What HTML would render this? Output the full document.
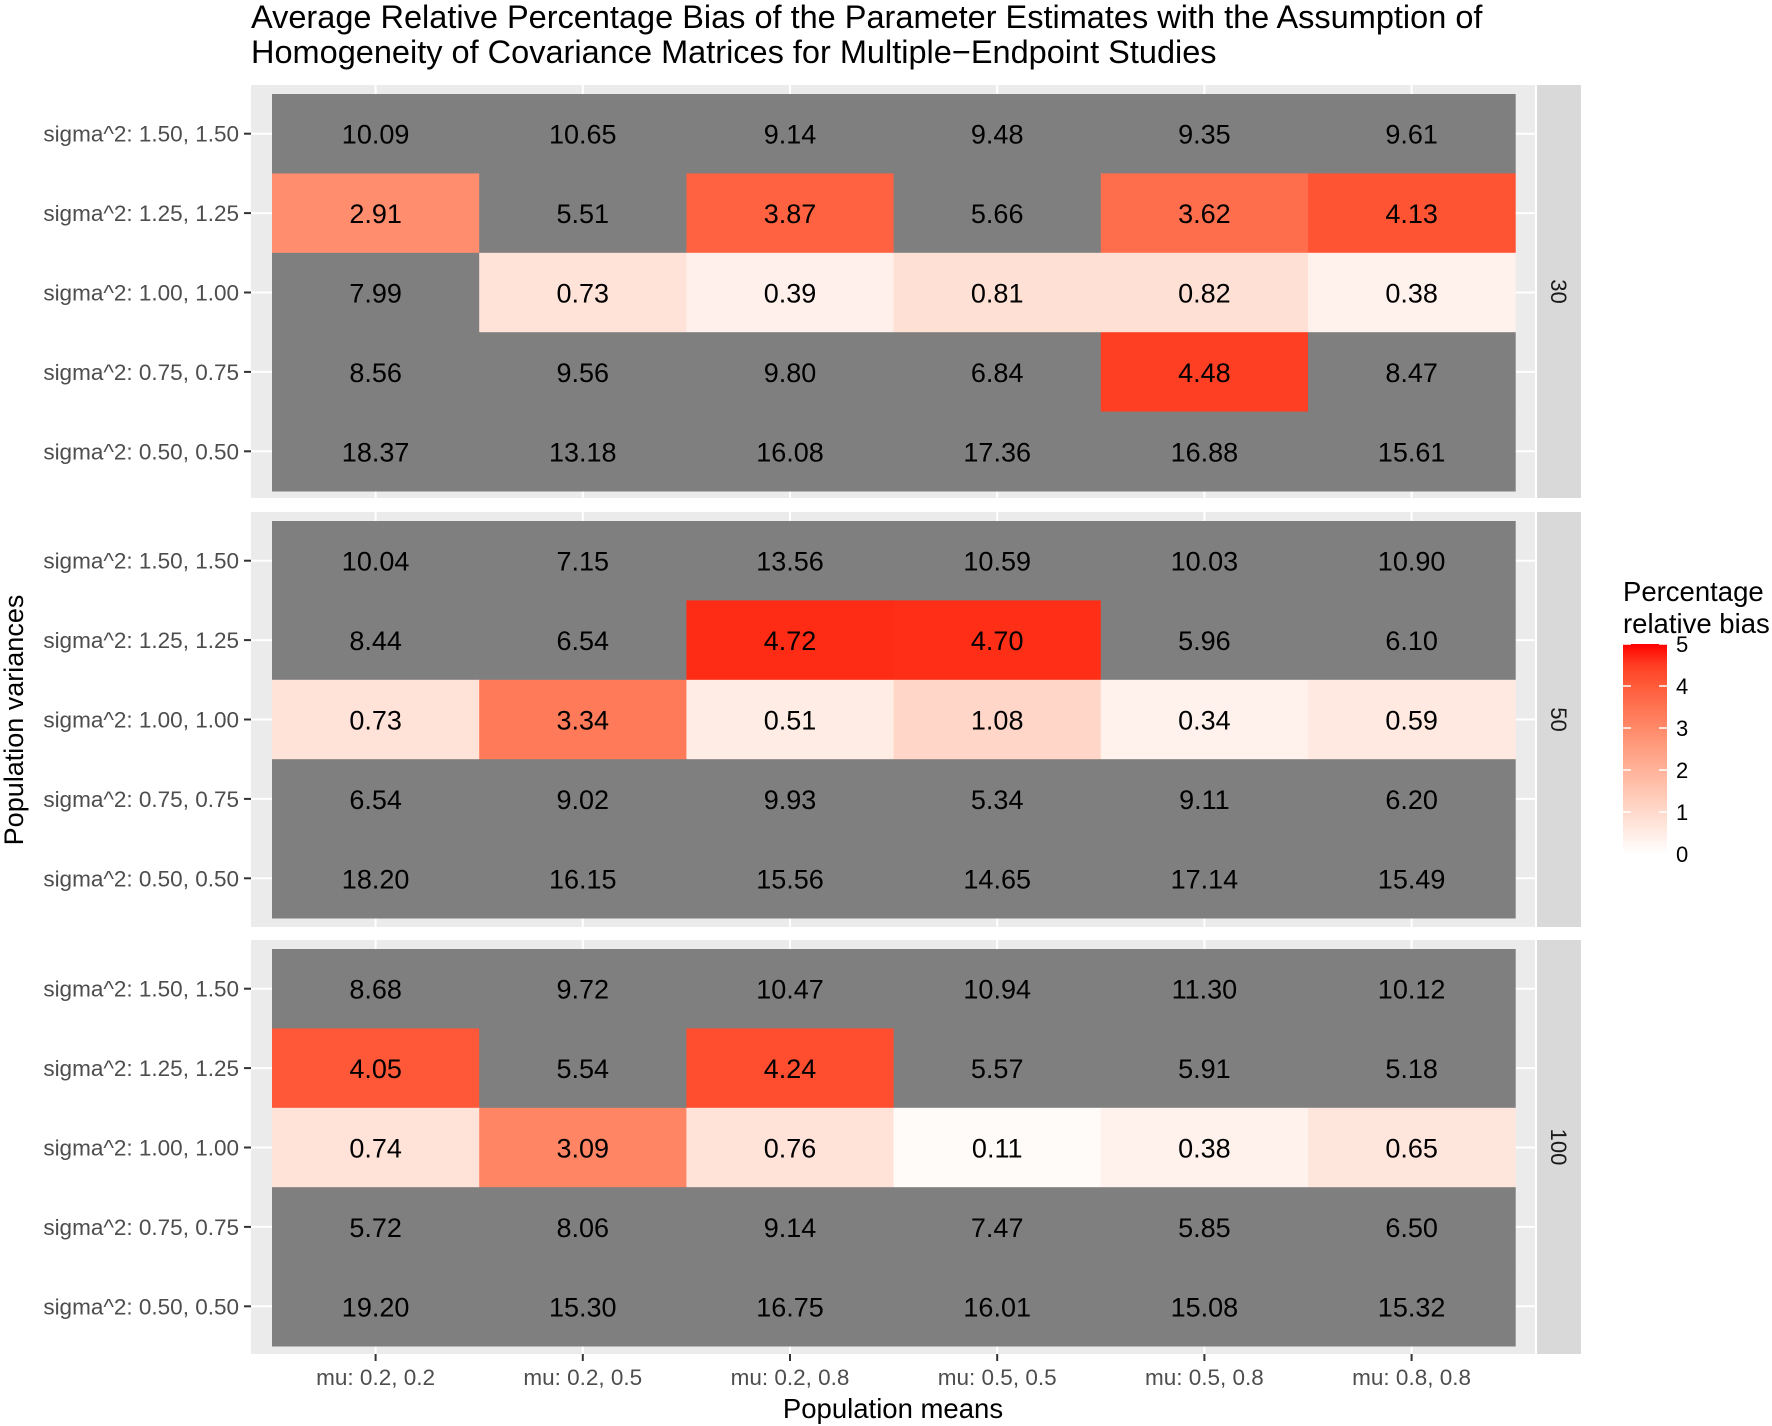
<!DOCTYPE html>
<html><head><meta charset="utf-8"><style>
html,body{margin:0;padding:0;background:#fff;}
svg{display:block;font-family:"Liberation Sans",sans-serif;}
</style></head><body>
<svg id="chart" width="1772" height="1426" viewBox="0 0 1772 1426">
<defs>
<linearGradient id="lg" x1="0" y1="1" x2="0" y2="0"></linearGradient>
</defs>
<text x="251" y="28" font-size="32.5" fill="#000">Average Relative Percentage Bias of the Parameter Estimates with the Assumption of</text>
<text x="251" y="63" font-size="32.5" fill="#000">Homogeneity of Covariance Matrices for Multiple−Endpoint Studies</text>
<g id="panels"></g>
<text x="893" y="1418" font-size="27.5" text-anchor="middle" fill="#000">Population means</text>
<text x="0" y="0" font-size="27" text-anchor="middle" fill="#000" transform="translate(23,720) rotate(-90)">Population variances</text>
<g id="legend">
<text x="1623" y="601" font-size="27.5" fill="#000">Percentage</text>
<text x="1623" y="633" font-size="27.5" fill="#000">relative bias</text>
</g>
</svg>
<script>
const columns = ["mu: 0.2, 0.2","mu: 0.2, 0.5","mu: 0.2, 0.8","mu: 0.5, 0.5","mu: 0.5, 0.8","mu: 0.8, 0.8"];
const rowsLabels = ["sigma^2: 1.50, 1.50","sigma^2: 1.25, 1.25","sigma^2: 1.00, 1.00","sigma^2: 0.75, 0.75","sigma^2: 0.50, 0.50"];
const panelNames = ["30","50","100"];
const values30 = [
 [10.09,10.65,9.14,9.48,9.35,9.61],
 [2.91,5.51,3.87,5.66,3.62,4.13],
 [7.99,0.73,0.39,0.81,0.82,0.38],
 [8.56,9.56,9.80,6.84,4.48,8.47],
 [18.37,13.18,16.08,17.36,16.88,15.61]];
const values50 = [
 [10.04,7.15,13.56,10.59,10.03,10.90],
 [8.44,6.54,4.72,4.70,5.96,6.10],
 [0.73,3.34,0.51,1.08,0.34,0.59],
 [6.54,9.02,9.93,5.34,9.11,6.20],
 [18.20,16.15,15.56,14.65,17.14,15.49]];
const values100 = [
 [8.68,9.72,10.47,10.94,11.30,10.12],
 [4.05,5.54,4.24,5.57,5.91,5.18],
 [0.74,3.09,0.76,0.11,0.38,0.65],
 [5.72,8.06,9.14,7.47,5.85,6.50],
 [19.20,15.30,16.75,16.01,15.08,15.32]];
const legendTicks = [0,1,2,3,4,5];

const NS="http://www.w3.org/2000/svg";
function mk(tag,attrs,parent){const e=document.createElementNS(NS,tag);for(const k in attrs)e.setAttribute(k,attrs[k]);parent.appendChild(e);return e;}
function s2l(c){c/=255;return c<=0.04045?c/12.92:Math.pow((c+0.055)/1.055,2.4);}
function l2s(c){c=c<=0.0031308?12.92*c:1.055*Math.pow(c,1/2.4)-0.055;return Math.round(Math.max(0,Math.min(1,c))*255);}
function toLab(r,g,b){r=s2l(r);g=s2l(g);b=s2l(b);
 let X=(0.4124*r+0.3576*g+0.1805*b)/0.95047,Y=0.2126*r+0.7152*g+0.0722*b,Z=(0.0193*r+0.1192*g+0.9505*b)/1.08883;
 const f=t=>t>0.008856?Math.cbrt(t):7.787*t+16/116;X=f(X);Y=f(Y);Z=f(Z);
 return [116*Y-16,500*(X-Y),200*(Y-Z)];}
function fromLab(L,a,b){let Y=(L+16)/116,X=a/500+Y,Z=Y-b/200;
 const fi=t=>t*t*t>0.008856?t*t*t:(t-16/116)/7.787;X=fi(X)*0.95047;Y=fi(Y);Z=fi(Z)*1.08883;
 const r=3.2406*X-1.5372*Y-0.4986*Z,g=-0.9689*X+1.8758*Y+0.0415*Z,bb=0.0557*X-0.2040*Y+1.0570*Z;
 return `rgb(${l2s(r)},${l2s(g)},${l2s(bb)})`;}
const W=toLab(255,255,255),R=toLab(255,0,0);
function color(v){if(v>5||v<0)return "#7f7f7f";const t=v/5;return fromLab(W[0]+(R[0]-W[0])*t,W[1]+(R[1]-W[1])*t,W[2]+(R[2]-W[2])*t);}

const tileX0=272,colW=207.2,rowH=79.4;
const panelBg=[[85,498],[512,927],[940,1354]];
const tileY0=[94,521,949];
const xScale=i=>tileX0+colW*i;
const yScale=(p,j)=>tileY0[p]+rowH*j;
const g=document.getElementById('panels');
const allVals=[values30,values50,values100];
allVals.forEach((vals,p)=>{
 const pg=mk('g',{},g);
 
 
 const bg=mk('rect',{x:251,y:panelBg[p][0],width:1284,height:panelBg[p][1]-panelBg[p][0],fill:'#ebebeb'},pg);
 
 
 for(let i=0;i<columns.length;i++){const x=xScale(i)+colW/2;
  const l=mk('line',{x1:x,x2:x,y1:panelBg[p][0],y2:panelBg[p][1],stroke:'#fff','stroke-width':2},pg);
  
  }
 for(let j=0;j<rowsLabels.length;j++){const y=yScale(p,j)+rowH/2;
  const l=mk('line',{x1:251,x2:1535,y1:y,y2:y,stroke:'#fff','stroke-width':2},pg);
  
  }
 vals.forEach((row,j)=>row.forEach((v,i)=>{
  const r=mk('rect',{x:xScale(i),y:yScale(p,j),width:colW+0.5,height:rowH+0.5,fill:color(v)},pg);
  
  
  const t=mk('text',{x:xScale(i)+colW/2,y:yScale(p,j)+rowH/2+10,'font-size':27,'text-anchor':'middle',fill:'#000'},pg);
  t.textContent=v.toFixed(2);
  
  
 }));
 rowsLabels.forEach((lab,j)=>{const y=yScale(p,j)+rowH/2;
  const tk=mk('line',{x1:244,x2:251,y1:y,y2:y,stroke:'#333','stroke-width':2},pg);
  
  
  const t=mk('text',{x:239,y:y+8,'font-size':22.5,'text-anchor':'end',fill:'#4d4d4d'},pg);
  t.textContent=lab;
  
  });
 const st=mk('rect',{x:1537,y:panelBg[p][0],width:44,height:panelBg[p][1]-panelBg[p][0],fill:'#d9d9d9'},pg);
 
 
 const cy=(panelBg[p][0]+panelBg[p][1])/2;
 const stt=mk('text',{x:0,y:0,'font-size':22,'text-anchor':'middle',fill:'#1a1a1a',transform:`translate(1551,${cy}) rotate(90)`},pg);
 stt.textContent=panelNames[p];
 
 
});
columns.forEach((c,i)=>{const x=xScale(i)+colW/2;
 const tk=mk('line',{x1:x,x2:x,y1:1354,y2:1361,stroke:'#333','stroke-width':2},g);
 
 
 const t=mk('text',{x:x,y:1385,'font-size':22.5,'text-anchor':'middle',fill:'#4d4d4d'},g);
 t.textContent=c;
 
 });
const lg=document.getElementById('lg');
for(let k=0;k<=10;k++){mk('stop',{offset:k/10,'stop-color':color(5*k/10)},lg);}
const leg=document.getElementById('legend');
const bx=1623,bw=44,by0=854,by1=644;
const ly=v=>by0-(by0-by1)*v/5;
const bar=mk('rect',{x:bx,y:by1,width:bw,height:by0-by1,fill:'url(#lg)'},leg);


legendTicks.forEach(v=>{const y=ly(v);
 mk('line',{x1:bx,x2:bx+8,y1:y,y2:y,stroke:'#fff','stroke-width':1.5},leg);
 mk('line',{x1:bx+bw-8,x2:bx+bw,y1:y,y2:y,stroke:'#fff','stroke-width':1.5},leg);
 const t=mk('text',{x:bx+bw+9,y:y+8,'font-size':22,fill:'#000'},leg);
 t.textContent=v;
 
 });
</script>
</body></html>
